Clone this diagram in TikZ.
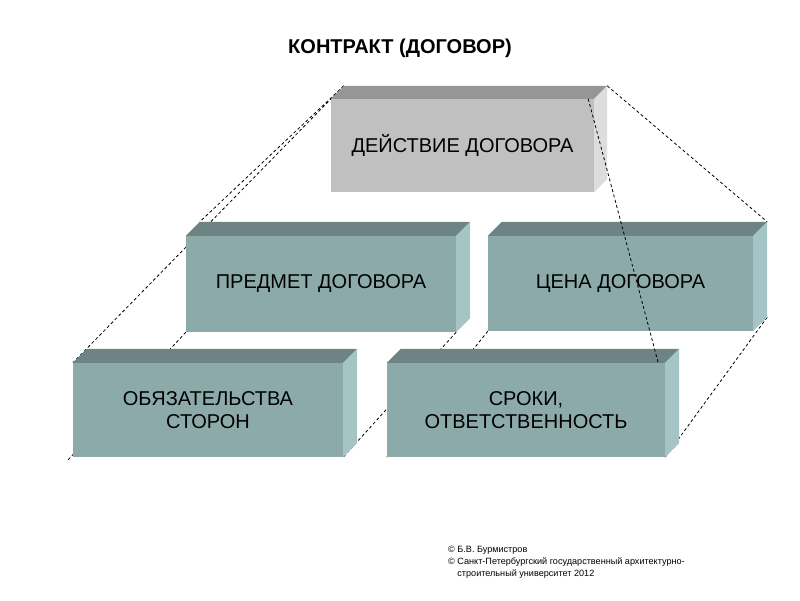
\documentclass[tikz,border=0pt]{standalone}
\usepackage{fontspec}
\setmainfont{Liberation Sans}
\usetikzlibrary{positioning, calc, backgrounds}
\definecolor{greyfront}{RGB}{192,192,192}
\definecolor{greytop}{RGB}{150,150,150}
\definecolor{greyside}{RGB}{221,221,221}
\definecolor{tealfront}{RGB}{141,170,171}
\definecolor{tealtop}{RGB}{110,131,132}
\definecolor{tealside}{RGB}{165,196,198}

\begin{document}
\begin{tikzpicture}[
    x=1pt, y=1pt,
    block/.style={rectangle, fill=tealfront, minimum height=94pt, inner sep=0pt, align=center, font=\fontsize{20}{23.5}\selectfont},
    guide/.style={line width=0.8pt, dash pattern=on 3pt off 2.5pt},
]
    \useasboundingbox (0,0) rectangle (800,600);
    \node[font=\bfseries\fontsize{20}{23}\selectfont] (title) at (400,552) {КОНТРАКТ (ДОГОВОР)};

    \node[block, fill=greyfront, minimum width=263pt, minimum height=93pt] (act) at (462.5,454.5) {ДЕЙСТВИЕ ДОГОВОРА};
    \node[block, minimum width=270pt, minimum height=96pt] (subject) at (321,316) {ПРЕДМЕТ ДОГОВОРА};
    \node[block, minimum width=265pt, minimum height=95pt] (price) at (620.5,316.5) {ЦЕНА ДОГОВОРА};
    \node[block, minimum width=270pt] (duties) at (208,190) {ОБЯЗАТЕЛЬСТВА\\СТОРОН};
    \node[block, minimum width=278pt] (terms) at (526,190) {СРОКИ,\\ОТВЕТСТВЕННОСТЬ};

    % top and side faces
    \fill[greytop] (act.north west) -- ++(13,13) -- ($(act.north east)+(13,13)$) -- (act.north east) -- cycle;
    \fill[greyside] (act.north east) -- ++(13,13) -- ($(act.south east)+(13,13)$) -- (act.south east) -- cycle;
    \fill[tealtop] (subject.north west) -- ++(14,14) -- ($(subject.north east)+(14,14)$) -- (subject.north east) -- cycle;
    \fill[tealside] (subject.north east) -- ++(14,14) -- ($(subject.south east)+(14,14)$) -- (subject.south east) -- cycle;
    \fill[tealtop] (price.north west) -- ++(14,14) -- ($(price.north east)+(14,14)$) -- (price.north east) -- cycle;
    \fill[tealside] (price.north east) -- ++(14,14) -- ($(price.south east)+(14,14)$) -- (price.south east) -- cycle;
    \fill[tealtop] (duties.north west) -- ++(14,14) -- ($(duties.north east)+(14,14)$) -- (duties.north east) -- cycle;
    \fill[tealside] (duties.north east) -- ++(14,14) -- ($(duties.south east)+(14,14)$) -- (duties.south east) -- cycle;
    \fill[tealtop] (terms.north west) -- ++(14,14) -- ($(terms.north east)+(14,14)$) -- (terms.north east) -- cycle;
    \fill[tealside] (terms.north east) -- ++(14,14) -- ($(terms.south east)+(14,14)$) -- (terms.south east) -- cycle;

    % dashed guide lines behind the blocks
    \begin{scope}[on background layer]
        \draw[guide] ($(act.north west)+(13,13)$) -- (duties.north west);
        \draw[guide] ($(act.north west)+(13,13)$) -- ($(subject.north west)+(14,14)$);
        \draw[guide] ($(act.north east)+(13,13)$) -- ($(price.north east)+(14,14)$);
        \draw[guide] (subject.south west) -- ($(duties.south west)+(-5,-3)$);
        \draw[guide] (subject.south east) -- (duties.south east);
        \draw[guide] (price.south west) -- (terms.south west);
        \draw[guide] ($(price.south east)+(14,14)$) -- (terms.south east);
    \end{scope}
    \draw[guide] ($(act.north east)+(-6,0)$) -- ($(terms.north east)+(-7,0)$);

    \node[anchor=north west, align=left, inner sep=0pt, font=\fontsize{9.1}{12}\selectfont] (credit) at (448,54) {© Б.В. Бурмистров\\© Санкт-Петербургский государственный архитектурно-\\\phantom{© }строительный университет 2012};
\end{tikzpicture}
\end{document}
